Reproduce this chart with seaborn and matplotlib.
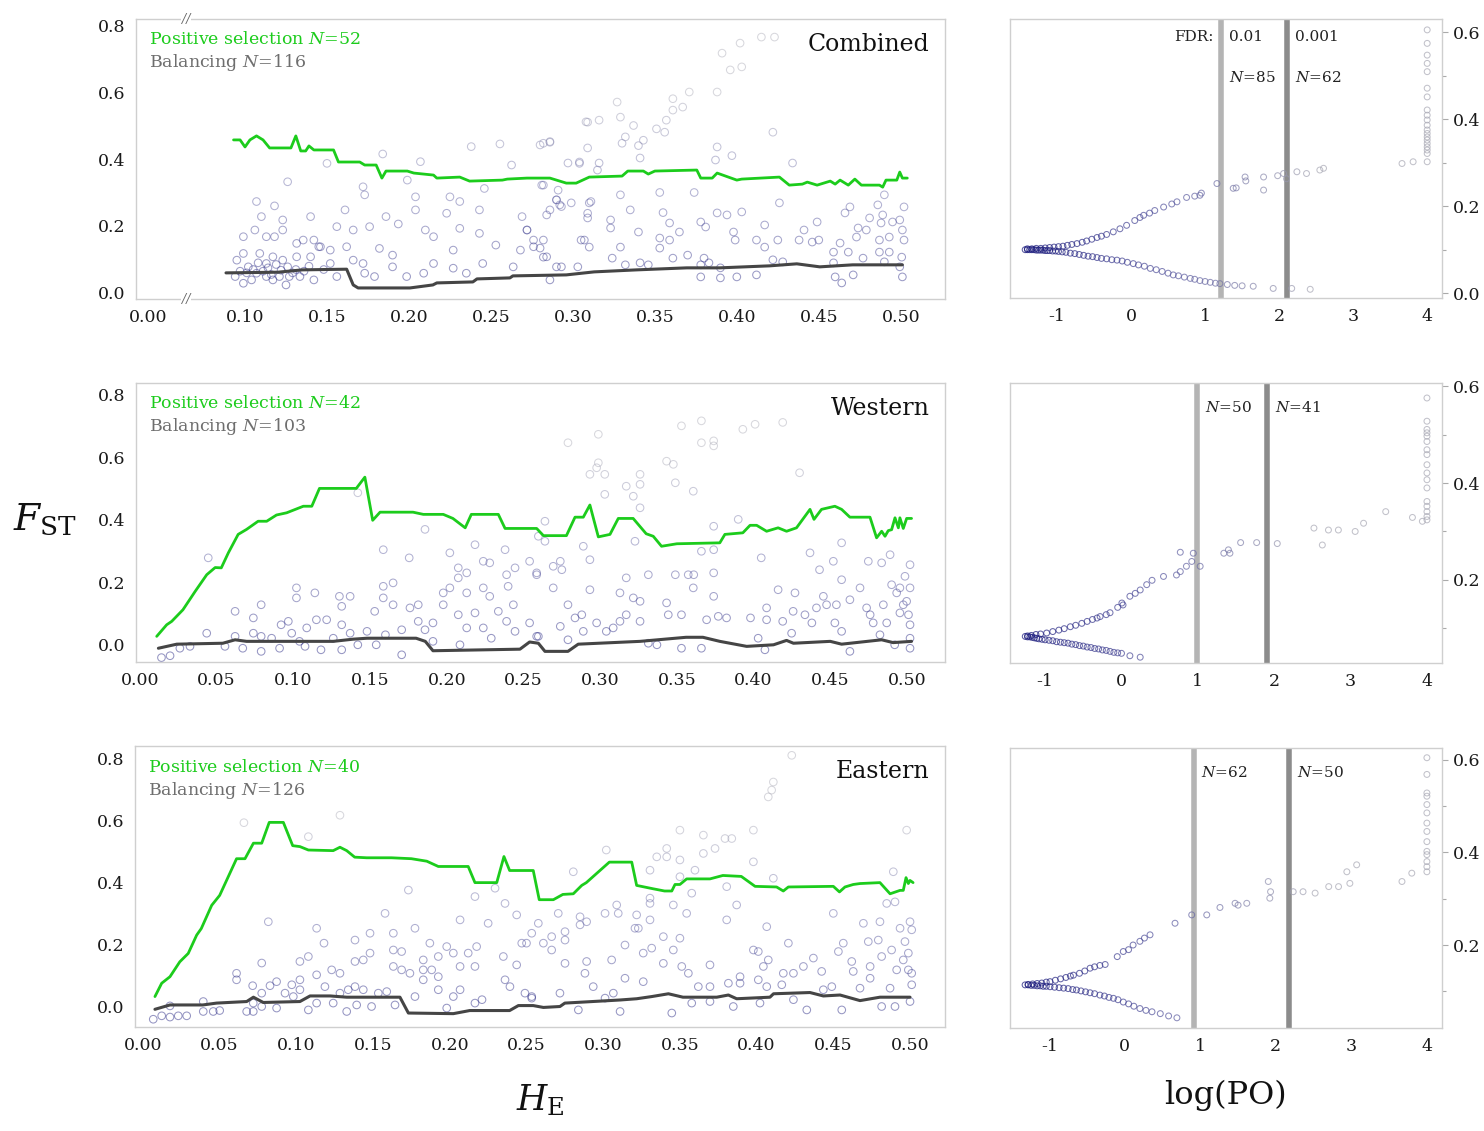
import matplotlib
matplotlib.use("Agg")
import matplotlib.pyplot as plt
import matplotlib.transforms as mtransforms
import seaborn as sns

# ---- data ---------------------------------------------------------------
panel_names = ["Combined", "Western", "Eastern"]
n_positive = [52, 42, 40]
n_balancing = [116, 103, 126]
fdr_levels = ["0.01", "0.001"]
n_fdr = [(85, 62), (50, 41), (62, 50)]
fdr_cutoffs = [(1.22, 2.11), (0.99, 1.91), (0.91, 2.18)]

# sliding-window quantile lines (He, Fst)
comb_green = [(0.093, 0.457), (0.097, 0.457), (0.100, 0.436), (0.103, 0.457), (0.107, 0.469), (0.111, 0.457),
              (0.115, 0.433), (0.128, 0.433), (0.131, 0.469), (0.134, 0.424), (0.137, 0.424), (0.139, 0.439),
              (0.142, 0.427), (0.154, 0.427), (0.157, 0.391), (0.170, 0.391), (0.173, 0.382), (0.180, 0.382),
              (0.1835, 0.343), (0.186, 0.364), (0.199, 0.364), (0.203, 0.358), (0.215, 0.352), (0.217, 0.343),
              (0.231, 0.346), (0.237, 0.334), (0.257, 0.337), (0.260, 0.340), (0.272, 0.343), (0.286, 0.343),
              (0.296, 0.328), (0.302, 0.328), (0.310, 0.346), (0.330, 0.349), (0.3335, 0.364), (0.343, 0.364),
              (0.346, 0.355), (0.350, 0.364), (0.3756, 0.367), (0.378, 0.343), (0.385, 0.343), (0.388, 0.358),
              (0.400, 0.337), (0.403, 0.340), (0.426, 0.346), (0.432, 0.322), (0.440, 0.325), (0.443, 0.331),
              (0.449, 0.322), (0.457, 0.334), (0.460, 0.325), (0.463, 0.337), (0.468, 0.322), (0.472, 0.340),
              (0.476, 0.322), (0.487, 0.322), (0.489, 0.316), (0.491, 0.337), (0.4976, 0.337), (0.4994, 0.361),
              (0.501, 0.343), (0.504, 0.343)]
comb_dark = [(0.0884, 0.060), (0.12, 0.062), (0.135, 0.069), (0.162, 0.071), (0.166, 0.024), (0.169, 0.015),
             (0.2006, 0.015), (0.2146, 0.024), (0.217, 0.030), (0.239, 0.033), (0.2415, 0.042), (0.2616, 0.045),
             (0.2634, 0.051), (0.296, 0.054), (0.313, 0.063), (0.339, 0.069), (0.3695, 0.075), (0.3896, 0.075),
             (0.420, 0.081), (0.4366, 0.087), (0.4506, 0.078), (0.4707, 0.084), (0.501, 0.084)]

west_green = [(0.0109, 0.027), (0.0174, 0.064), (0.0207, 0.075), (0.028, 0.112), (0.036, 0.171), (0.0435, 0.224),
              (0.049, 0.247), (0.053, 0.246), (0.0576, 0.294), (0.064, 0.353), (0.0695, 0.369), (0.077, 0.395),
              (0.0826, 0.395), (0.089, 0.415), (0.0956, 0.422), (0.1065, 0.443), (0.112, 0.443), (0.117, 0.500),
              (0.141, 0.500), (0.1466, 0.536), (0.1517, 0.398), (0.1565, 0.424), (0.178, 0.424), (0.1847, 0.417),
              (0.1977, 0.417), (0.204, 0.404), (0.212, 0.374), (0.216, 0.417), (0.2336, 0.417), (0.238, 0.372),
              (0.2586, 0.372), (0.263, 0.349), (0.278, 0.349), (0.2836, 0.408), (0.289, 0.408), (0.2933, 0.447),
              (0.2988, 0.345), (0.3064, 0.353), (0.3118, 0.404), (0.3215, 0.404), (0.330, 0.355), (0.3346, 0.347),
              (0.340, 0.315), (0.350, 0.323), (0.378, 0.326), (0.3813, 0.353), (0.393, 0.358), (0.3977, 0.382),
              (0.402, 0.382), (0.4085, 0.363), (0.416, 0.374), (0.4215, 0.363), (0.428, 0.374), (0.4368, 0.433),
              (0.4394, 0.401), (0.4443, 0.433), (0.453, 0.443), (0.4574, 0.433), (0.4628, 0.408), (0.4759, 0.408),
              (0.4802, 0.342), (0.4835, 0.363), (0.4857, 0.347), (0.4878, 0.365), (0.490, 0.368), (0.4922, 0.406),
              (0.4944, 0.374), (0.4954, 0.406), (0.4976, 0.372), (0.4998, 0.404), (0.503, 0.404)]
west_dark = [(0.012, -0.011), (0.024, 0.002), (0.054, 0.005), (0.062, 0.016), (0.0695, 0.011), (0.126, 0.011),
             (0.139, 0.018), (0.148, 0.021), (0.180, 0.021), (0.186, 0.011), (0.191, -0.019), (0.2477, -0.014),
             (0.254, 0.009), (0.2597, 0.005), (0.264, -0.021), (0.279, -0.021), (0.2857, 0.002), (0.326, 0.011),
             (0.356, 0.024), (0.367, 0.024), (0.378, 0.011), (0.3955, -0.005), (0.413, 0.0), (0.4215, 0.014),
             (0.426, 0.005), (0.450, 0.011), (0.4574, 0.002), (0.4835, 0.016), (0.491, 0.007), (0.503, 0.011)]

east_green = [(0.0078, 0.033), (0.0122, 0.076), (0.0176, 0.097), (0.024, 0.145), (0.0295, 0.172), (0.035, 0.231),
              (0.038, 0.252), (0.0448, 0.327), (0.050, 0.359), (0.061, 0.477), (0.0665, 0.477), (0.072, 0.527),
              (0.0774, 0.527), (0.0823, 0.594), (0.0915, 0.594), (0.0976, 0.519), (0.1023, 0.516), (0.1078, 0.505),
              (0.124, 0.503), (0.1284, 0.514), (0.1328, 0.503), (0.138, 0.482), (0.1458, 0.480), (0.162, 0.480),
              (0.175, 0.477), (0.185, 0.469), (0.1925, 0.452), (0.212, 0.452), (0.2164, 0.400), (0.2306, 0.400),
              (0.2353, 0.484), (0.239, 0.439), (0.2544, 0.439), (0.2583, 0.345), (0.2675, 0.345), (0.2737, 0.362),
              (0.2805, 0.364), (0.286, 0.391), (0.289, 0.400), (0.304, 0.466), (0.3186, 0.466), (0.3218, 0.391),
              (0.3327, 0.380), (0.340, 0.373), (0.3447, 0.373), (0.3468, 0.394), (0.350, 0.394), (0.3544, 0.412),
              (0.3696, 0.412), (0.378, 0.423), (0.390, 0.420), (0.399, 0.388), (0.413, 0.386), (0.4174, 0.373),
              (0.4207, 0.386), (0.450, 0.388), (0.454, 0.370), (0.4576, 0.386), (0.463, 0.394), (0.4674, 0.397),
              (0.4804, 0.400), (0.487, 0.364), (0.4935, 0.375), (0.4956, 0.375), (0.4974, 0.416), (0.4989, 0.397),
              (0.500, 0.407), (0.502, 0.400)]
east_dark = [(0.0078, -0.008), (0.0176, 0.006), (0.039, 0.006), (0.048, 0.012), (0.0676, 0.017), (0.072, 0.031),
             (0.0784, 0.014), (0.1023, 0.017), (0.1089, 0.035), (0.122, 0.035), (0.1328, 0.031), (0.1675, 0.031),
             (0.173, -0.020), (0.2023, -0.022), (0.213, -0.012), (0.239, -0.012), (0.2447, 0.004), (0.2544, 0.004),
             (0.261, -0.002), (0.2718, 0.001), (0.275, 0.012), (0.311, 0.022), (0.3218, 0.026), (0.3316, 0.033),
             (0.3425, 0.042), (0.352, 0.031), (0.374, 0.031), (0.3816, 0.038), (0.387, 0.026), (0.4087, 0.031),
             (0.411, 0.042), (0.4348, 0.046), (0.4435, 0.035), (0.4544, 0.038), (0.4674, 0.020), (0.4804, 0.031),
             (0.500, 0.031)]

# loci (He, Fst)
comb_pts = [(0.099, 0.168), (0.107, 0.273), (0.110, 0.228), (0.118, 0.260), (0.106, 0.188), (0.113, 0.168),
            (0.118, 0.168), (0.123, 0.218), (0.123, 0.188), (0.126, 0.332), (0.1315, 0.148), (0.140, 0.228),
            (0.142, 0.158), (0.150, 0.387), (0.156, 0.198), (0.161, 0.248), (0.166, 0.188), (0.172, 0.317),
            (0.173, 0.293), (0.176, 0.198), (0.184, 0.415), (0.186, 0.228), (0.1935, 0.206), (0.199, 0.337),
            (0.204, 0.287), (0.204, 0.248), (0.207, 0.392), (0.210, 0.188), (0.215, 0.168), (0.223, 0.238),
            (0.225, 0.287), (0.231, 0.273), (0.231, 0.193), (0.238, 0.437), (0.243, 0.248), (0.246, 0.312),
            (0.243, 0.178), (0.253, 0.143), (0.2555, 0.445), (0.2626, 0.382), (0.269, 0.228), (0.272, 0.188),
            (0.276, 0.138), (0.282, 0.158), (0.282, 0.447), (0.286, 0.452), (0.282, 0.322), (0.290, 0.278),
            (0.293, 0.258), (0.308, 0.511), (0.304, 0.387), (0.311, 0.273), (0.309, 0.238), (0.307, 0.158),
            (0.293, 0.078), (0.284, 0.108), (0.2636, 0.078), (0.245, 0.088), (0.235, 0.059), (0.227, 0.074),
            (0.227, 0.128), (0.215, 0.088), (0.209, 0.059), (0.1986, 0.049), (0.190, 0.078), (0.190, 0.113),
            (0.182, 0.133), (0.179, 0.049), (0.172, 0.088), (0.173, 0.059), (0.166, 0.098), (0.162, 0.138),
            (0.156, 0.049), (0.152, 0.128), (0.152, 0.088), (0.146, 0.138), (0.140, 0.108), (0.1335, 0.049),
            (0.1315, 0.108), (0.127, 0.049), (0.123, 0.098), (0.121, 0.049), (0.117, 0.108), (0.113, 0.049),
            (0.113, 0.088), (0.109, 0.118), (0.107, 0.059), (0.102, 0.078), (0.099, 0.118), (0.099, 0.029),
            (0.095, 0.098), (0.094, 0.049), (0.104, 0.039), (0.117, 0.039), (0.125, 0.024), (0.142, 0.039),
            (0.145, 0.138), (0.1355, 0.158), (0.097, 0.065), (0.101, 0.060), (0.105, 0.070), (0.108, 0.090),
            (0.111, 0.065), (0.114, 0.075), (0.116, 0.055), (0.119, 0.085), (0.122, 0.068), (0.126, 0.078),
            (0.129, 0.060), (0.131, 0.070), (0.136, 0.065), (0.139, 0.080), (0.148, 0.070),
            (0.391, 0.716), (0.402, 0.746), (0.415, 0.764), (0.423, 0.764), (0.396, 0.666), (0.403, 0.675),
            (0.388, 0.600), (0.371, 0.600), (0.367, 0.555), (0.361, 0.580), (0.361, 0.546), (0.357, 0.516),
            (0.351, 0.490), (0.356, 0.480), (0.327, 0.570), (0.329, 0.525), (0.316, 0.516), (0.309, 0.510),
            (0.337, 0.500), (0.343, 0.456), (0.340, 0.440), (0.332, 0.466), (0.330, 0.447), (0.341, 0.403),
            (0.422, 0.480), (0.388, 0.436), (0.397, 0.410), (0.387, 0.397), (0.434, 0.388), (0.280, 0.442),
            (0.286, 0.450), (0.309, 0.433), (0.297, 0.388), (0.304, 0.391), (0.316, 0.388), (0.315, 0.367),
            (0.281, 0.322), (0.291, 0.307), (0.290, 0.278), (0.292, 0.263), (0.299, 0.269), (0.310, 0.269),
            (0.286, 0.248), (0.309, 0.224), (0.329, 0.293), (0.335, 0.248), (0.323, 0.218), (0.353, 0.300),
            (0.355, 0.240), (0.374, 0.300), (0.378, 0.212), (0.381, 0.197), (0.388, 0.239), (0.394, 0.233),
            (0.403, 0.242), (0.398, 0.182), (0.426, 0.269), (0.417, 0.203), (0.359, 0.209), (0.365, 0.182),
            (0.353, 0.164), (0.359, 0.158), (0.340, 0.182), (0.323, 0.194), (0.305, 0.158), (0.310, 0.137),
            (0.329, 0.137), (0.324, 0.104), (0.332, 0.084), (0.341, 0.090), (0.346, 0.084), (0.353, 0.134),
            (0.361, 0.104), (0.370, 0.113), (0.378, 0.084), (0.383, 0.090), (0.378, 0.048), (0.390, 0.045),
            (0.400, 0.048), (0.412, 0.054), (0.399, 0.158), (0.412, 0.158), (0.425, 0.158), (0.417, 0.137),
            (0.422, 0.099), (0.428, 0.093), (0.438, 0.158), (0.441, 0.188), (0.449, 0.212), (0.450, 0.158),
            (0.459, 0.122), (0.463, 0.149), (0.459, 0.090), (0.460, 0.048), (0.464, 0.030), (0.471, 0.054),
            (0.468, 0.122), (0.477, 0.104), (0.473, 0.167), (0.474, 0.194), (0.479, 0.188), (0.481, 0.224),
            (0.466, 0.239), (0.469, 0.257), (0.486, 0.263), (0.489, 0.233), (0.488, 0.209), (0.490, 0.293),
            (0.487, 0.158), (0.487, 0.122), (0.493, 0.122), (0.493, 0.167), (0.495, 0.212), (0.4994, 0.218),
            (0.502, 0.257), (0.501, 0.188), (0.502, 0.158), (0.5006, 0.107), (0.501, 0.048), (0.4994, 0.078),
            (0.490, 0.093), (0.446, 0.152), (0.284, 0.233), (0.282, 0.107), (0.290, 0.078), (0.303, 0.078),
            (0.286, 0.039), (0.276, 0.158), (0.280, 0.134), (0.272, 0.188), (0.268, 0.128), (0.390, 0.075),
            (0.380, 0.104)]

west_pts = [(0.014, -0.041), (0.0196, -0.035), (0.026, -0.011), (0.0326, -0.005), (0.0435, 0.037), (0.0445, 0.278),
            (0.0554, -0.005), (0.062, 0.107), (0.062, 0.027), (0.067, -0.011), (0.0739, 0.086), (0.0739, 0.037),
            (0.079, 0.128), (0.079, 0.027), (0.079, -0.021), (0.0858, 0.021), (0.091, -0.011), (0.092, 0.064),
            (0.0967, 0.075), (0.0989, 0.037), (0.102, 0.182), (0.102, 0.150), (0.104, 0.011), (0.1076, -0.005),
            (0.1087, 0.054), (0.114, 0.166), (0.115, 0.080), (0.118, -0.016), (0.1217, 0.080), (0.126, 0.021),
            (0.130, 0.155), (0.1315, 0.123), (0.1315, 0.064), (0.1315, -0.016), (0.137, 0.155), (0.137, 0.037),
            (0.142, 0.486), (0.142, 0.0), (0.148, 0.043), (0.153, 0.107), (0.154, 0.0), (0.1586, 0.304),
            (0.1586, 0.187), (0.1586, 0.150), (0.160, 0.032), (0.165, 0.128), (0.165, 0.198), (0.1706, 0.048),
            (0.1706, -0.032), (0.1755, 0.278), (0.176, 0.118), (0.1814, 0.128), (0.1814, 0.075), (0.1858, 0.369),
            (0.1858, 0.048), (0.191, 0.070), (0.191, 0.011), (0.1977, 0.128), (0.1977, 0.166), (0.202, 0.294),
            (0.202, 0.182), (0.2075, 0.246), (0.2075, 0.214), (0.2075, 0.096), (0.2086, 0.0), (0.213, 0.230),
            (0.213, 0.166), (0.213, 0.054), (0.2184, 0.320), (0.2184, 0.102), (0.2238, 0.267), (0.2238, 0.182),
            (0.2238, 0.054), (0.228, 0.262), (0.228, 0.155), (0.229, 0.021), (0.2336, 0.107), (0.238, 0.304),
            (0.239, 0.224), (0.239, 0.075), (0.240, 0.187), (0.2434, 0.128), (0.2445, 0.246), (0.2445, 0.043),
            (0.254, 0.267), (0.254, 0.070), (0.2586, 0.230), (0.2597, 0.347), (0.2586, 0.027), (0.264, 0.395),
            (0.264, 0.331), (0.2586, 0.224), (0.2597, 0.027), (0.2694, 0.251), (0.2694, 0.182), (0.274, 0.267),
            (0.275, 0.240), (0.274, 0.059), (0.279, 0.646), (0.279, 0.128), (0.279, 0.016), (0.2836, 0.086),
            (0.288, 0.096), (0.289, 0.315), (0.289, 0.043), (0.2933, 0.272), (0.2933, 0.176), (0.2933, 0.545),
            (0.2977, 0.566), (0.2977, 0.070), (0.2988, 0.673), (0.2988, 0.582), (0.303, 0.545), (0.303, 0.481),
            (0.304, 0.043), (0.3085, 0.054), (0.3129, 0.166), (0.3129, 0.075), (0.317, 0.507), (0.317, 0.214),
            (0.317, 0.096), (0.3216, 0.475), (0.3216, 0.150), (0.3227, 0.331), (0.326, 0.545), (0.326, 0.513),
            (0.326, 0.438), (0.326, 0.075), (0.326, 0.139), (0.3314, 0.224), (0.3314, 0.005), (0.337, 0.0),
            (0.3433, 0.587), (0.3433, 0.134), (0.3444, 0.096), (0.3477, 0.577), (0.349, 0.518), (0.349, 0.224),
            (0.353, 0.700), (0.353, 0.096), (0.353, -0.011), (0.3574, 0.224), (0.3607, 0.491), (0.3607, 0.182),
            (0.361, 0.224), (0.366, 0.716), (0.366, 0.646), (0.366, 0.299), (0.366, -0.011), (0.3694, 0.080),
            (0.374, 0.652), (0.374, 0.636), (0.374, 0.304), (0.374, 0.230), (0.374, 0.155), (0.374, 0.379),
            (0.377, 0.091), (0.3824, 0.086), (0.390, 0.401), (0.393, 0.689), (0.401, 0.705), (0.398, 0.086),
            (0.403, 0.021), (0.405, 0.278), (0.4074, -0.016), (0.4085, 0.118), (0.4085, 0.080), (0.416, 0.176),
            (0.419, 0.711), (0.419, 0.075), (0.4248, 0.037), (0.4258, 0.107), (0.427, 0.166), (0.430, 0.550),
            (0.4335, 0.096), (0.4368, 0.294), (0.438, 0.070), (0.441, 0.118), (0.443, 0.240), (0.4455, 0.155),
            (0.4476, 0.128), (0.452, 0.267), (0.453, 0.070), (0.454, 0.128), (0.4574, 0.326), (0.4574, 0.208),
            (0.4574, 0.043), (0.4628, 0.144), (0.4628, -0.021), (0.4694, 0.182), (0.4737, 0.118), (0.4748, 0.267),
            (0.476, 0.096), (0.478, 0.070), (0.4824, 0.032), (0.4835, 0.262), (0.4846, 0.128), (0.4868, 0.070),
            (0.489, 0.288), (0.490, 0.192), (0.492, 0.0), (0.4933, 0.166), (0.4954, 0.182), (0.4954, 0.102),
            (0.4987, 0.219), (0.4998, 0.139), (0.501, 0.096), (0.502, 0.256), (0.502, 0.182), (0.502, 0.064),
            (0.502, 0.021), (0.502, -0.011), (0.4976, 0.128)]

east_pts = [(0.0067, -0.040), (0.0122, -0.029), (0.0176, 0.003), (0.0176, -0.033), (0.023, -0.029), (0.0285, -0.029),
            (0.0393, 0.017), (0.0393, -0.015), (0.0458, -0.015), (0.050, -0.012), (0.061, 0.108), (0.061, 0.087),
            (0.0658, 0.593), (0.0676, -0.015), (0.0715, 0.068), (0.0719, 0.012), (0.0719, -0.015), (0.0774, 0.141),
            (0.0774, 0.044), (0.0774, 0.001), (0.0817, 0.274), (0.0828, 0.068), (0.0871, 0.081), (0.0871, -0.004),
            (0.0926, 0.044), (0.097, 0.071), (0.098, 0.033), (0.1023, 0.087), (0.1023, 0.146), (0.1023, 0.055),
            (0.1078, 0.162), (0.1078, 0.548), (0.1078, -0.010), (0.1132, 0.253), (0.1132, 0.103), (0.1132, 0.012),
            (0.118, 0.205), (0.1186, 0.065), (0.123, 0.119), (0.124, 0.012), (0.1284, 0.617), (0.1284, 0.108),
            (0.1284, 0.044), (0.1328, -0.015), (0.1338, 0.055), (0.1382, 0.215), (0.1382, 0.146), (0.1382, 0.065),
            (0.1393, 0.006), (0.1436, 0.151), (0.1436, 0.055), (0.148, 0.237), (0.148, 0.173), (0.149, 0.001),
            (0.1534, 0.044), (0.1578, 0.301), (0.1589, 0.049), (0.1632, 0.237), (0.1632, 0.183), (0.1632, 0.130),
            (0.1643, 0.006), (0.1686, 0.178), (0.1686, 0.119), (0.173, 0.376), (0.174, 0.108), (0.1773, 0.253),
            (0.1773, 0.033), (0.1827, 0.119), (0.1827, 0.087), (0.1827, 0.151), (0.187, 0.205), (0.1882, 0.119),
            (0.1925, 0.162), (0.1925, 0.097), (0.1925, 0.055), (0.198, -0.004), (0.198, 0.194), (0.2023, 0.173),
            (0.2023, 0.033), (0.2067, 0.280), (0.2067, 0.130), (0.2067, 0.055), (0.212, 0.173), (0.2164, 0.355),
            (0.2164, 0.130), (0.2164, 0.012), (0.2175, 0.194), (0.221, 0.023), (0.225, 0.269), (0.2295, 0.382),
            (0.2349, 0.162), (0.236, 0.333), (0.236, 0.087), (0.2392, 0.065), (0.2436, 0.296), (0.2436, 0.135),
            (0.2469, 0.205), (0.249, 0.044), (0.2534, 0.237), (0.2534, 0.028), (0.2577, 0.269), (0.261, 0.205),
            (0.250, 0.205), (0.2534, 0.033), (0.2664, 0.226), (0.2664, 0.183), (0.2707, 0.301), (0.2718, 0.044),
            (0.2751, 0.242), (0.2751, 0.215), (0.2751, 0.140), (0.2805, 0.435), (0.2838, -0.010), (0.2849, 0.290),
            (0.2849, 0.264), (0.2892, 0.274), (0.2892, 0.146), (0.2881, 0.108), (0.2935, 0.065), (0.3012, 0.301),
            (0.3012, 0.028), (0.3055, 0.151), (0.3066, 0.044), (0.3088, 0.328), (0.3098, 0.301), (0.3142, 0.199),
            (0.3142, 0.092), (0.311, -0.015), (0.3207, 0.253), (0.3229, 0.253), (0.3218, 0.296), (0.3261, 0.081),
            (0.3261, 0.173), (0.3305, 0.440), (0.3305, 0.350), (0.3305, 0.333), (0.3305, 0.280), (0.3316, 0.189),
            (0.3349, 0.483), (0.3392, 0.226), (0.3392, 0.140), (0.3414, 0.510), (0.3414, 0.483), (0.3447, -0.020),
            (0.3457, 0.328), (0.3457, 0.183), (0.350, 0.569), (0.350, 0.473), (0.350, 0.419), (0.350, 0.221),
            (0.3512, 0.130), (0.3544, 0.301), (0.3555, 0.108), (0.3577, 0.366), (0.3577, 0.012), (0.3598, 0.440),
            (0.3620, 0.065), (0.3653, 0.553), (0.3653, 0.494), (0.3696, 0.135), (0.3696, 0.065), (0.3696, 0.017),
            (0.3729, 0.510), (0.3794, 0.542), (0.3805, 0.280), (0.3805, 0.387), (0.3816, 0.076), (0.3838, 0.542),
            (0.3848, 0.001), (0.387, 0.328), (0.3892, 0.076), (0.3892, 0.097), (0.3979, 0.569), (0.3979, 0.467),
            (0.3979, 0.183), (0.4011, 0.178), (0.4011, 0.087), (0.4022, 0.012), (0.4044, 0.130), (0.4066, 0.258),
            (0.4066, 0.065), (0.4076, 0.676), (0.4098, 0.698), (0.4109, 0.724), (0.4109, 0.414), (0.4076, 0.151),
            (0.4164, 0.071), (0.4174, 0.108), (0.4207, 0.205), (0.4229, 0.810), (0.424, 0.023), (0.424, 0.108),
            (0.4305, 0.130), (0.4327, -0.010), (0.437, 0.157), (0.4424, 0.114), (0.4435, 0.055), (0.449, 0.065),
            (0.450, 0.301), (0.4533, 0.178), (0.4555, -0.010), (0.4565, 0.205), (0.462, 0.146), (0.463, 0.114),
            (0.4674, 0.060), (0.4696, 0.269), (0.4728, 0.210), (0.474, 0.130), (0.474, 0.092), (0.4793, 0.215),
            (0.4804, 0.274), (0.4815, 0.162), (0.4815, 0.001), (0.4848, 0.333), (0.487, 0.060), (0.488, 0.183),
            (0.4891, 0.435), (0.4902, 0.338), (0.4913, 0.119), (0.4935, 0.253), (0.4956, 0.151), (0.4967, 0.210),
            (0.4978, 0.569), (0.4989, 0.173), (0.500, 0.274), (0.5011, 0.248), (0.5011, 0.108), (0.5011, 0.071),
            (0.500, 0.017), (0.4902, 0.001), (0.4989, 0.119), (0.302, 0.505)]

# log posterior odds vs Fst (right panels)
comb_po = [(-1.43, 0.100), (-1.40, 0.100), (-1.37, 0.100), (-1.34, 0.100), (-1.31, 0.100), (-1.28, 0.099),
           (-1.25, 0.099), (-1.22, 0.099), (-1.19, 0.099), (-1.16, 0.098), (-1.13, 0.098), (-1.10, 0.098),
           (-1.06, 0.097), (-1.02, 0.097), (-0.98, 0.096), (-0.93, 0.095), (-0.88, 0.094), (-0.82, 0.092),
           (-0.76, 0.091), (-0.70, 0.089), (-0.64, 0.087), (-0.58, 0.085), (-0.52, 0.084), (-0.46, 0.082),
           (-0.40, 0.080), (-0.33, 0.079), (-0.26, 0.077), (-0.19, 0.076), (-0.12, 0.074), (-0.05, 0.071),
           (0.03, 0.068), (0.10, 0.065), (0.18, 0.062), (0.26, 0.057), (0.34, 0.054), (0.42, 0.050),
           (0.50, 0.046), (0.57, 0.042), (0.64, 0.040), (0.72, 0.037), (0.80, 0.034), (0.86, 0.032),
           (0.93, 0.029), (1.00, 0.027), (1.07, 0.025), (1.14, 0.023), (1.20, 0.022), (1.30, 0.020),
           (1.40, 0.018), (1.50, 0.017), (1.65, 0.016), (1.92, 0.011), (2.17, 0.011), (2.42, 0.009),
           (-1.40, 0.102), (-1.34, 0.102), (-1.28, 0.103), (-1.22, 0.103), (-1.16, 0.104), (-1.10, 0.105),
           (-1.04, 0.106), (-0.98, 0.107), (-0.92, 0.108), (-0.86, 0.110), (-0.80, 0.112), (-0.73, 0.114),
           (-0.66, 0.117), (-0.60, 0.120), (-0.53, 0.124), (-0.46, 0.128), (-0.40, 0.131), (-0.33, 0.135),
           (-0.24, 0.141), (-0.15, 0.148), (-0.06, 0.156), (0.05, 0.167), (0.12, 0.174), (0.17, 0.179),
           (0.25, 0.184), (0.32, 0.190), (0.44, 0.198), (0.55, 0.205), (0.62, 0.210), (0.75, 0.220),
           (0.86, 0.223), (0.93, 0.225), (0.95, 0.230), (1.16, 0.252), (1.38, 0.241), (1.42, 0.242),
           (1.54, 0.267), (1.55, 0.258), (1.79, 0.267), (1.79, 0.237), (1.98, 0.270), (2.06, 0.275),
           (2.10, 0.263), (2.24, 0.279), (2.37, 0.275), (2.55, 0.283), (2.60, 0.287), (3.66, 0.298),
           (3.81, 0.302),
           (4.0, 0.605), (4.0, 0.574), (4.0, 0.547), (4.0, 0.528), (4.0, 0.509), (4.0, 0.471), (4.0, 0.451),
           (4.0, 0.421), (4.0, 0.409), (4.0, 0.398), (4.0, 0.386), (4.0, 0.375), (4.0, 0.367), (4.0, 0.359),
           (4.0, 0.352), (4.0, 0.344), (4.0, 0.336), (4.0, 0.329), (4.0, 0.321), (4.0, 0.302)]

west_po = [(-1.26, 0.083), (-1.23, 0.082), (-1.20, 0.082), (-1.17, 0.081), (-1.14, 0.080), (-1.11, 0.079),
           (-1.08, 0.078), (-1.04, 0.077), (-1.00, 0.076), (-0.95, 0.075), (-0.90, 0.074), (-0.85, 0.072),
           (-0.80, 0.071), (-0.75, 0.070), (-0.70, 0.069), (-0.65, 0.067), (-0.60, 0.066), (-0.55, 0.064),
           (-0.50, 0.063), (-0.45, 0.061), (-0.40, 0.060), (-0.35, 0.058), (-0.30, 0.057), (-0.25, 0.055),
           (-0.20, 0.054), (-0.15, 0.052), (-0.10, 0.050), (-0.05, 0.049), (0.00, 0.048), (0.11, 0.043),
           (0.245, 0.040),
           (-1.23, 0.084), (-1.18, 0.085), (-1.12, 0.087), (-1.06, 0.088), (-0.98, 0.090), (-0.90, 0.093),
           (-0.82, 0.096), (-0.75, 0.099), (-0.67, 0.103), (-0.60, 0.106), (-0.52, 0.110), (-0.45, 0.114),
           (-0.38, 0.118), (-0.32, 0.121), (-0.28, 0.124), (-0.20, 0.128), (-0.15, 0.132), (-0.05, 0.143),
           (0.005, 0.152), (0.02, 0.148), (0.11, 0.166), (0.18, 0.172), (0.245, 0.179), (0.33, 0.190),
           (0.40, 0.199), (0.55, 0.207), (0.72, 0.210), (0.77, 0.217), (0.77, 0.257), (0.85, 0.228),
           (0.92, 0.238), (0.94, 0.255), (1.03, 0.228), (1.34, 0.255), (1.40, 0.262), (1.42, 0.255),
           (1.56, 0.277), (1.77, 0.277), (2.04, 0.275), (2.52, 0.307), (2.63, 0.272), (2.71, 0.303),
           (2.84, 0.303), (3.06, 0.300), (3.17, 0.317), (3.46, 0.341), (3.81, 0.329), (3.94, 0.321),
           (4.0, 0.576), (4.0, 0.528), (4.0, 0.511), (4.0, 0.504), (4.0, 0.497), (4.0, 0.486), (4.0, 0.469),
           (4.0, 0.459), (4.0, 0.438), (4.0, 0.421), (4.0, 0.407), (4.0, 0.390), (4.0, 0.362), (4.0, 0.352),
           (4.0, 0.341), (4.0, 0.331), (4.0, 0.324)]

east_po = [(-1.32, 0.114), (-1.28, 0.114), (-1.24, 0.113), (-1.20, 0.113), (-1.16, 0.112), (-1.12, 0.112),
           (-1.08, 0.111), (-1.04, 0.111), (-0.99, 0.110), (-0.93, 0.109), (-0.87, 0.108), (-0.81, 0.107),
           (-0.75, 0.106), (-0.69, 0.104), (-0.64, 0.103), (-0.58, 0.101), (-0.52, 0.099), (-0.46, 0.097),
           (-0.40, 0.095), (-0.33, 0.092), (-0.27, 0.090), (-0.21, 0.087), (-0.15, 0.085), (-0.09, 0.082),
           (-0.02, 0.077), (0.05, 0.073), (0.12, 0.068), (0.20, 0.063), (0.28, 0.059), (0.36, 0.056),
           (0.47, 0.052), (0.58, 0.047), (0.69, 0.043),
           (-1.28, 0.115), (-1.22, 0.116), (-1.16, 0.117), (-1.10, 0.118), (-1.04, 0.120), (-0.99, 0.121),
           (-0.92, 0.124), (-0.85, 0.127), (-0.78, 0.130), (-0.72, 0.133), (-0.68, 0.135), (-0.60, 0.139),
           (-0.53, 0.144), (-0.46, 0.150), (-0.40, 0.153), (-0.33, 0.156), (-0.26, 0.158), (-0.10, 0.175),
           (-0.02, 0.186), (0.05, 0.190), (0.11, 0.200), (0.20, 0.208), (0.26, 0.215), (0.334, 0.222),
           (0.665, 0.247), (0.886, 0.265), (1.085, 0.265), (1.26, 0.281), (1.46, 0.290), (1.50, 0.286),
           (1.615, 0.290), (1.90, 0.337), (1.92, 0.301), (1.93, 0.315), (2.23, 0.315), (2.36, 0.315),
           (2.52, 0.312), (2.70, 0.326), (2.83, 0.326), (2.94, 0.358), (2.98, 0.333), (3.07, 0.373),
           (3.67, 0.337), (3.80, 0.355),
           (4.0, 0.604), (4.0, 0.568), (4.0, 0.528), (4.0, 0.521), (4.0, 0.503), (4.0, 0.485), (4.0, 0.463),
           (4.0, 0.445), (4.0, 0.423), (4.0, 0.402), (4.0, 0.395), (4.0, 0.380), (4.0, 0.369), (4.0, 0.358)]

he_ticks = [0.00, 0.05, 0.10, 0.15, 0.20, 0.25, 0.30, 0.35, 0.40, 0.45, 0.50]
fst_ticks = [0.0, 0.2, 0.4, 0.6, 0.8]
po_ticks = [-1, 0, 1, 2, 3, 4]

# ---- styling ----------------------------------------------------------------
GREEN = "#1ccc1c"
DARK = "#454545"
SPINE = "#cfcfcf"
point_cmap = sns.blend_palette(["#16167a", "#5a5aa0", "#a8a8b4"], as_cmap=True)

sns.set_style("white")
plt.rcParams["font.family"] = ["DejaVu Serif"]
plt.rcParams["mathtext.fontset"] = "dejavuserif"

W, H = 1484, 1131
fig = plt.figure(figsize=(W / 100, H / 100), dpi=100)


def px_axes(left, top, right, bottom):
    return fig.add_axes([left / W, 1 - bottom / H, (right - left) / W, (bottom - top) / H])


def style_axes(ax):
    for s in ax.spines.values():
        s.set_color(SPINE)
        s.set_linewidth(1.0)
    ax.tick_params(which="both", direction="out", color="#aaaaaa", labelsize=12.5,
                   labelcolor="#1a1a1a", width=0.8)
    ax.tick_params(which="major", length=4)
    ax.tick_params(which="minor", length=3)
    ax.set_xlabel("")
    ax.set_ylabel("")


left_boxes = [(136, 19, 945, 299), (136, 383, 945, 662), (135, 746, 945, 1027)]
right_boxes = [(1010, 19, 1442, 298), (1010, 383, 1442, 663), (1010, 748, 1442, 1028)]
left_xlims = [(0.0335, 0.527), (-0.0026, 0.5248), (-0.0052, 0.5228)]
left_ylims = [(-0.018, 0.818), (-0.055, 0.837), (-0.065, 0.84)]
right_xlims = [(-1.635, 4.20), (-1.46, 4.197), (-1.52, 4.20)]
right_ylims = [(-0.011, 0.63), (0.028, 0.607), (0.021, 0.625)]

pts_all = [comb_pts, west_pts, east_pts]
green_all = [comb_green, west_green, east_green]
dark_all = [comb_dark, west_dark, east_dark]
po_all = [comb_po, west_po, east_po]

for i in range(3):
    # ---- left: Fst vs He ----
    ax = px_axes(*left_boxes[i])
    px, py = zip(*pts_all[i])
    sns.scatterplot(x=list(px), y=list(py), hue=list(py), hue_norm=(0.0, 0.6), palette=point_cmap,
                    ax=ax, s=30, marker="o", facecolor="none", linewidth=0.75, alpha=0.45, legend=False)
    # seaborn puts hue colours on the face; move them to the edge for open circles
    coll = ax.collections[-1]
    coll.set_edgecolors(coll.get_facecolors())
    coll.set_facecolors("none")
    gx, gy = zip(*green_all[i])
    sns.lineplot(x=list(gx), y=list(gy), ax=ax, color=GREEN, linewidth=2.0,
                 estimator=None, sort=False)
    dx, dy = zip(*dark_all[i])
    sns.lineplot(x=list(dx), y=list(dy), ax=ax, color=DARK, linewidth=2.2,
                 estimator=None, sort=False)
    ax.set_xlim(*left_xlims[i])
    ax.set_ylim(*left_ylims[i])
    ax.set_yticks(fst_ticks)
    ax.set_yticklabels([f"{v:.1f}" for v in fst_ticks])
    ax.set_yticks([0.1, 0.3, 0.5, 0.7], minor=True)
    if i == 0:
        # broken axis: the 0.00 tick sits just left of the break
        ticks = [0.0408] + he_ticks[2:]
        ax.set_xticks(ticks)
        ax.set_xticklabels([f"{v:.2f}" for v in he_ticks[:1] + he_ticks[2:]])
        ax.set_xticks([0.125, 0.175, 0.225, 0.275, 0.325, 0.375, 0.425, 0.475], minor=True)
        tr = mtransforms.blended_transform_factory(ax.transData, ax.transAxes)
        for yy in (1.0, 0.0):
            ax.text(0.064, yy, "//", transform=tr, ha="center", va="center", fontsize=9,
                    color="#666666", clip_on=False, style="italic",
                    bbox=dict(boxstyle="square,pad=0.05", fc="white", ec="none"))
    else:
        ax.set_xticks(he_ticks)
        ax.set_xticklabels([f"{v:.2f}" for v in he_ticks])
        ax.set_xticks([0.025, 0.075, 0.125, 0.175, 0.225, 0.275, 0.325, 0.375, 0.425, 0.475],
                      minor=True)
    style_axes(ax)
    ax.text(0.016, 0.925, rf"Positive selection $\mathit{{N}}$={n_positive[i]}", transform=ax.transAxes,
            color=GREEN, fontsize=12.5, ha="left", va="center")
    ax.text(0.016, 0.843, rf"Balancing $\mathit{{N}}$={n_balancing[i]}", transform=ax.transAxes,
            color="#6e6e6e", fontsize=12.5, ha="left", va="center")
    ax.text(0.981, 0.91, panel_names[i], transform=ax.transAxes, color="#111111",
            fontsize=17, ha="right", va="center")

    # ---- right: Fst vs log(PO) ----
    axr = px_axes(*right_boxes[i])
    rx, ry = zip(*po_all[i])
    c1, c2 = fdr_cutoffs[i]
    axr.axvline(c1, color="#b4b4b4", linewidth=4.0, zorder=1)
    axr.axvline(c2, color="#8c8c8c", linewidth=4.0, zorder=1)
    sns.scatterplot(x=list(rx), y=list(ry), hue=list(rx), hue_norm=(-1.3, 2.5), palette=point_cmap,
                    ax=axr, s=18, marker="o", facecolor="none", linewidth=0.75, alpha=0.7,
                    legend=False, zorder=3)
    coll = axr.collections[-1]
    coll.set_edgecolors(coll.get_facecolors())
    coll.set_facecolors("none")
    axr.set_xlim(*right_xlims[i])
    axr.set_ylim(*right_ylims[i])
    axr.set_xticks(po_ticks)
    axr.set_xticklabels([str(v) for v in po_ticks])
    axr.yaxis.tick_right()
    rticks = [0.0, 0.2, 0.4, 0.6] if i == 0 else [0.2, 0.4, 0.6]
    axr.set_yticks(rticks)
    axr.set_yticklabels([f"{v:.1f}" for v in rticks])
    axr.set_yticks([0.1, 0.3, 0.5], minor=True)
    style_axes(axr)
    tr = mtransforms.blended_transform_factory(axr.transData, axr.transAxes)
    n1, n2 = n_fdr[i]
    if i == 0:
        axr.text(c1 - 0.1, 0.935, "FDR:", transform=tr, fontsize=11, ha="right", va="center",
                 color="#222222")
        axr.text(c1 + 0.1, 0.935, fdr_levels[0], transform=tr, fontsize=11, ha="left", va="center",
                 color="#222222")
        axr.text(c2 + 0.1, 0.935, fdr_levels[1], transform=tr, fontsize=11, ha="left", va="center",
                 color="#222222")
        ny = 0.79
    else:
        ny = 0.912
    axr.text(c1 + 0.1, ny, rf"$\mathit{{N}}$={n1}", transform=tr, fontsize=11, ha="left",
             va="center", color="#222222")
    axr.text(c2 + 0.1, ny, rf"$\mathit{{N}}$={n2}", transform=tr, fontsize=11, ha="left",
             va="center", color="#222222")

# shared axis labels
fig.text(45 / W, 1 - 520 / H, r"$F_{\mathrm{ST}}$", fontsize=27, ha="center", va="center",
         color="#111111")
fig.text(540 / W, 1 - 1100 / H, r"$H_{\mathrm{E}}$", fontsize=25, ha="center", va="center",
         color="#111111")
fig.text(1225 / W, 1 - 1095 / H, "log(PO)", fontsize=23, ha="center", va="center", color="#111111")

fig.savefig("out.png", dpi=100)
